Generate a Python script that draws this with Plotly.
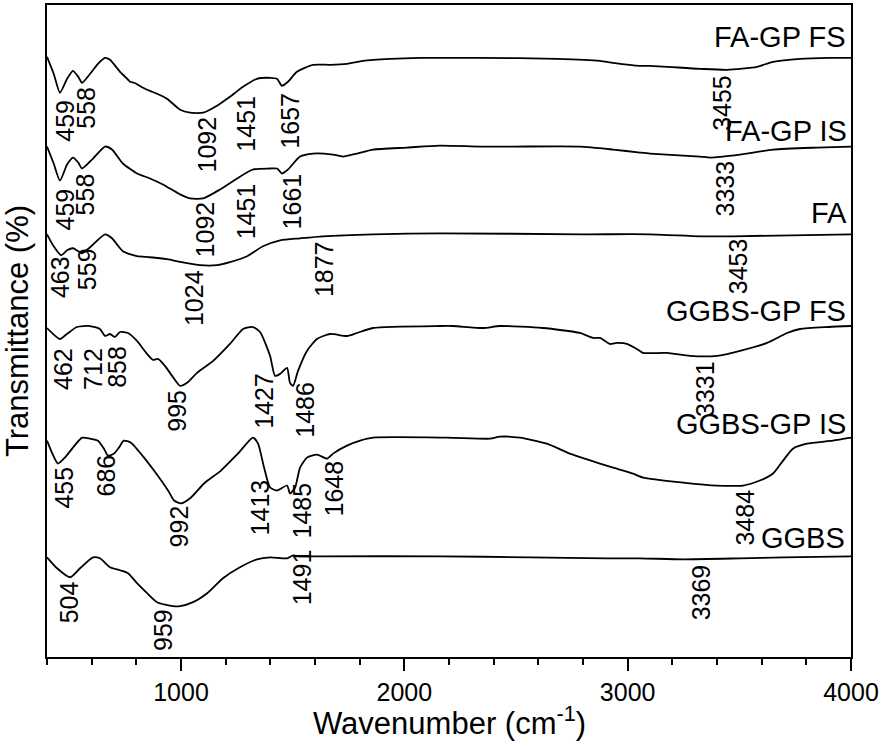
import plotly.graph_objects as go

# Wavenumber (cm-1) and offset transmittance (arbitrary units)
fagp_fs_x = [400, 430, 458, 490, 516, 540, 557, 593, 628, 660, 682, 727, 750, 772, 790, 807, 830, 848, 870, 893, 937, 996, 1040, 1099,
             1161, 1219, 1278, 1340, 1399, 1430, 1452, 1479, 1519, 1591, 1667, 1743, 1815, 1936, 2070, 2160, 2339, 2684,
             2876, 2935, 3055, 3100, 3324, 3445, 3579, 3651, 3772, 3900, 4000]
fagp_fs_y = [602, 585, 566, 580, 588, 582, 576, 585, 595, 601, 599, 587, 582, 577, 576, 574, 571, 569, 567, 565, 560, 549, 546, 546,
             553, 562, 572, 580, 581, 580, 573, 577, 587, 594, 594, 595, 598, 600, 601, 601, 601, 600,
             598, 596, 593, 593, 590, 589, 592, 597, 600, 601, 601]

fagp_is_x = [400, 430, 458, 490, 516, 540, 557, 606, 660, 691, 740, 803, 861, 919, 996, 1040, 1099, 1175, 1251, 1322, 1399,
             1430, 1452, 1479, 1533, 1591, 1681, 1725, 1788, 1860, 2012, 2160, 2339, 2487, 2787, 2935, 3055, 3100, 3324,
             3369, 3503, 3651, 3846, 4000]
fagp_is_y = [512, 495, 478, 494, 501, 496, 490, 500, 512, 509, 495, 485, 480, 474, 464, 460, 460, 469, 480, 489, 490,
             490, 485, 489, 502, 505, 504, 502, 505, 509, 511, 513, 512, 512, 512, 509, 506, 505, 502,
             501, 504, 509, 511, 512]

fa_x = [400, 430, 463, 490, 516, 540, 557, 593, 660, 691, 740, 803, 861, 937, 1005, 1085, 1161, 1219, 1296, 1367, 1444,
        1533, 1636, 1860, 2160, 2800, 3100, 3324, 3470, 4000]
fa_y = [424, 412, 403, 408, 410, 407, 405, 411, 424, 420, 407, 402, 401, 399, 396, 393, 393, 396, 402, 412, 418,
        420, 422, 424, 425, 424, 424, 422, 422, 424]

ggbs_fs_x = [400, 458, 489, 534, 593, 637, 660, 682, 704, 727, 763, 803, 848, 875, 897, 928, 960, 996, 1027, 1072, 1144,
             1219, 1278, 1322, 1354, 1399, 1421, 1444, 1475, 1488, 1502, 1524, 1564, 1609, 1667, 1743, 1788, 1860,
             2160, 2218, 2352, 2428, 2620, 2786, 2845, 2876, 2920, 2952, 2997, 3055, 3069, 3176, 3279, 3400, 3503,
             3624, 3714, 3772, 3900, 4000]
ggbs_fs_y = [330, 319, 324, 331, 332, 329, 322, 324, 321, 326, 325, 317, 304, 298, 299, 292, 282, 272, 275, 285, 297,
             314, 329, 331, 326, 302, 282, 284, 290, 275, 272, 287, 307, 319, 324, 322, 325, 330,
             332, 332, 330, 332, 330, 325, 320, 320, 314, 315, 314, 307, 305, 305, 302, 302, 307,
             315, 325, 329, 331, 332]

ggbs_is_x = [400, 422, 449, 480, 516, 557, 593, 628, 655, 673, 700, 722, 744, 776, 820, 879, 942, 969, 1000, 1045, 1103,
             1179, 1255, 1322, 1345, 1372, 1399, 1430, 1475, 1488, 1511, 1533, 1564, 1609, 1654, 1681, 1743, 1802,
             1860, 2191, 2384, 2428, 2517, 2638, 2741, 2862, 2935, 3024, 3069, 3248, 3400, 3517, 3592, 3651, 3696,
             3740, 3803, 3919, 4000]
ggbs_is_y = [217, 205, 194, 200, 210, 220, 219, 217, 209, 202, 204, 210, 217, 215, 204, 187, 167, 157, 154, 160, 174,
             187, 204, 220, 214, 190, 170, 167, 172, 164, 170, 190, 200, 203, 199, 204, 212, 217,
             220, 220, 219, 221, 220, 214, 204, 195, 190, 184, 180, 175, 172, 172, 177, 184, 197,
             209, 214, 217, 220]

ggbs_x = [400, 445, 503, 548, 606, 637, 682, 727, 763, 803, 848, 893, 964, 996, 1054, 1117, 1188, 1264, 1340, 1399,
          1475, 1502, 1533, 1636, 2160, 2563, 2907, 3055, 3248, 3503, 3696, 4000]
ggbs_y = [100, 89, 80, 89, 100, 99, 90, 87, 84, 74, 64, 55, 51, 51, 55, 64, 79, 90, 98, 100,
          99, 102, 101, 101, 101, 100, 99, 99, 98, 99, 100, 101]

series = [
    (fagp_fs_x, fagp_fs_y),
    (fagp_is_x, fagp_is_y),
    (fa_x, fa_y),
    (ggbs_fs_x, ggbs_fs_y),
    (ggbs_is_x, ggbs_is_y),
    (ggbs_x, ggbs_y),
]

# Peak labels (text, wavenumber position, offset-transmittance position)
peak_labels = [
    ("459", 481, 538), ("558", 575, 551), ("1092", 1116, 514), ("1451", 1291, 535), ("1657", 1488, 538), ("3455", 3423, 556),
    ("459", 481, 449), ("558", 570, 464), ("1092", 1108, 429), ("1451", 1291, 447), ("1661", 1497, 457), ("3333", 3436, 470),
    ("463", 458, 381), ("559", 579, 389), ("1024", 1058, 360), ("1877", 1640, 389), ("3453", 3494, 392),
    ("462", 472, 289), ("712", 606, 289), ("858", 713, 291), ("995", 982, 247), ("1427", 1372, 257), ("1486", 1555, 248),
    ("3331", 3347, 269),
    ("455", 472, 170), ("686", 664, 182), ("992", 991, 131), ("1413", 1358, 150), ("1485", 1542, 147), ("1648", 1685, 169),
    ("3484", 3526, 140),
    ("504", 499, 55), ("959", 919, 27), ("1491", 1542, 80), ("3369", 3329, 65),
]

series_names = ["FA-GP FS", "FA-GP IS", "FA", "GGBS-GP FS", "GGBS-GP IS", "GGBS"]
name_pos = [(3987, 622), (3991, 528), (3991, 445), (3987, 347), (3987, 234), (3982, 119)]

FONT = "Liberation Sans, Arial, sans-serif"

fig = go.Figure()
for (xs, ys), nm in zip(series, series_names):
    fig.add_trace(go.Scatter(x=xs, y=ys, mode="lines", name=nm,
                             line=dict(color="black", width=1.8, shape="spline", smoothing=0.6),
                             showlegend=False, hoverinfo="x+y+name"))

annotations = []
for t, x, y in peak_labels:
    annotations.append(dict(text=t, x=x, y=y, xref="x", yref="y", showarrow=False, textangle=-90,
                            xanchor="center", yanchor="middle", font=dict(size=25, color="black", family=FONT)))
for nm, (x, y) in zip(series_names, name_pos):
    annotations.append(dict(text=nm, x=x, y=y, xref="x", yref="y", showarrow=False,
                            xanchor="right", yanchor="middle", font=dict(size=29, color="black", family=FONT)))
# x-axis title
annotations.append(dict(text="Wavenumber (cm<sup>-1</sup>)", x=0.5, y=0, xref="paper", yref="paper",
                        showarrow=False, xanchor="center", yanchor="middle", yshift=-64,
                        font=dict(size=31, color="black", family=FONT)))

fig.update_layout(
    width=886, height=746,
    margin=dict(l=47, r=35, t=3, b=89),
    paper_bgcolor="white", plot_bgcolor="white",
    font=dict(family=FONT, color="black"),
    annotations=annotations,
    xaxis=dict(range=[400, 4000], showline=True, linecolor="black", linewidth=2, mirror=True,
               showgrid=False, zeroline=False, ticks="outside", ticklen=12, tickwidth=2, tickcolor="black",
               tickmode="array", tickvals=[1000, 2000, 3000, 4000],
               minor=dict(tickmode="array", tickvals=list(range(400, 4001, 200)), ticks="outside",
                          ticklen=6, tickwidth=2, tickcolor="black"),
               tickfont=dict(size=25, family=FONT, color="black")),
    yaxis=dict(range=[0, 654], showline=True, linecolor="black", linewidth=2, mirror=True,
               showgrid=False, zeroline=False, showticklabels=False, ticks="",
               title=dict(text="Transmittance (%)", font=dict(size=31, family=FONT, color="black"),
                          standoff=10)),
)

fig.write_html("out.html", config={"displayModeBar": False},
               post_script="document.body.style.margin='0';")
